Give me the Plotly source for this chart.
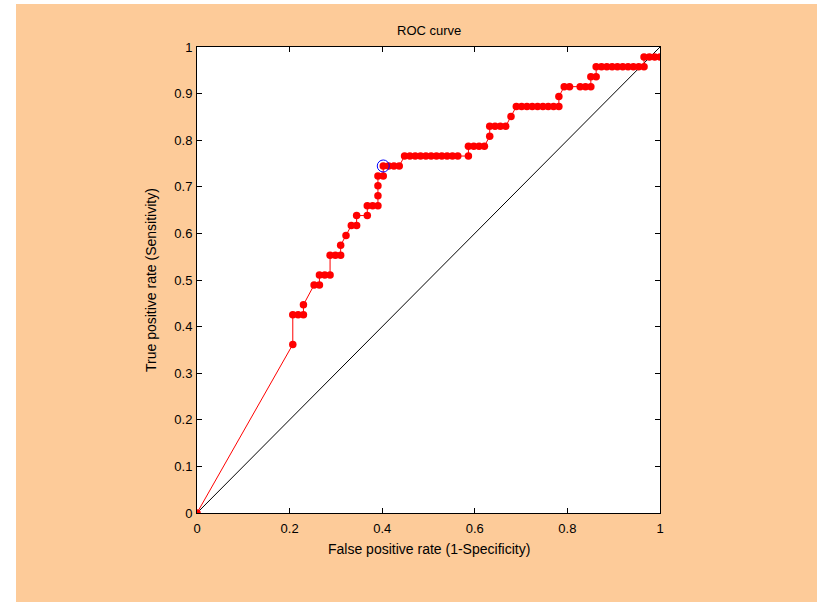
import plotly.graph_objects as go

# ROC curve points
fpr = [0.0, 0.2069, 0.2069, 0.2184, 0.2299, 0.2299, 0.2529, 0.2644, 0.2644, 0.2759,
       0.2874, 0.2874, 0.2989, 0.3103, 0.3103, 0.3218, 0.3333, 0.3448, 0.3448, 0.3678,
       0.3678, 0.3793, 0.3908, 0.3908, 0.3908, 0.3908, 0.4023, 0.4023, 0.4138, 0.4253,
       0.4368, 0.4483, 0.4598, 0.4713, 0.4828, 0.4943, 0.5057, 0.5172, 0.5287, 0.5402,
       0.5517, 0.5632, 0.5862, 0.5862, 0.5977, 0.6092, 0.6207, 0.6322, 0.6322, 0.6437,
       0.6552, 0.6667, 0.6782, 0.6897, 0.7011, 0.7126, 0.7241, 0.7356, 0.7471, 0.7586,
       0.7701, 0.7816, 0.7816, 0.7931, 0.8046, 0.8276, 0.8391, 0.8506, 0.8506, 0.8621,
       0.8621, 0.8736, 0.8851, 0.8966, 0.9080, 0.9195, 0.9310, 0.9425, 0.9540, 0.9655,
       0.9655, 0.9770, 0.9885, 1.0]
tpr = [0.0, 0.3617, 0.4255, 0.4255, 0.4255, 0.4468, 0.4894, 0.4894, 0.5106, 0.5106,
       0.5106, 0.5532, 0.5532, 0.5532, 0.5745, 0.5957, 0.6170, 0.6170, 0.6383, 0.6383,
       0.6596, 0.6596, 0.6596, 0.6809, 0.7021, 0.7234, 0.7234, 0.7447, 0.7447, 0.7447,
       0.7447, 0.7660, 0.7660, 0.7660, 0.7660, 0.7660, 0.7660, 0.7660, 0.7660, 0.7660,
       0.7660, 0.7660, 0.7660, 0.7872, 0.7872, 0.7872, 0.7872, 0.8085, 0.8298, 0.8298,
       0.8298, 0.8298, 0.8511, 0.8723, 0.8723, 0.8723, 0.8723, 0.8723, 0.8723, 0.8723,
       0.8723, 0.8723, 0.8936, 0.9149, 0.9149, 0.9149, 0.9149, 0.9149, 0.9362, 0.9362,
       0.9574, 0.9574, 0.9574, 0.9574, 0.9574, 0.9574, 0.9574, 0.9574, 0.9574, 0.9574,
       0.9787, 0.9787, 0.9787, 0.9787]

# operating point (blue circle)
op_x = [0.4023]
op_y = [0.7447]

diag_x = [0, 1]
diag_y = [0, 1]

x_ticks = [0, 0.2, 0.4, 0.6, 0.8, 1]
x_tick_text = ["0", "0.2", "0.4", "0.6", "0.8", "1"]
y_ticks = [0, 0.1, 0.2, 0.3, 0.4, 0.5, 0.6, 0.7, 0.8, 0.9, 1]
y_tick_text = ["0", "0.1", "0.2", "0.3", "0.4", "0.5", "0.6", "0.7", "0.8", "0.9", "1"]

FONT = "Liberation Sans, Arial, Helvetica, sans-serif"
BG = "#FDCB99"

fig = go.Figure()
fig.add_trace(go.Scatter(x=diag_x, y=diag_y, mode="lines",
                         line=dict(color="black", width=1), showlegend=False))
fig.add_trace(go.Scatter(x=fpr, y=tpr, mode="lines+markers",
                         line=dict(color="red", width=1),
                         marker=dict(color="red", size=7.5, line=dict(width=0)),
                         showlegend=False))
fig.add_trace(go.Scatter(x=op_x, y=op_y, mode="markers",
                         marker=dict(symbol="circle-open", color="blue", size=12,
                                     line=dict(color="blue", width=1)),
                         showlegend=False))

W, H = 817, 602
L, R, T, B = 197, 157, 47, 89
pw, ph = W - L - R, H - T - B

def px_to_xpaper(px):
    return (px - L) / pw

def py_to_ypaper(py):
    return (H - B - py) / ph

shapes = [
    dict(type="rect", xref="paper", yref="paper", layer="below",
         x0=px_to_xpaper(-5), x1=px_to_xpaper(16), y0=py_to_ypaper(610), y1=py_to_ypaper(-5),
         fillcolor="white", line=dict(width=0)),
    dict(type="rect", xref="paper", yref="paper", layer="below",
         x0=px_to_xpaper(-5), x1=px_to_xpaper(825), y0=py_to_ypaper(4), y1=py_to_ypaper(-5),
         fillcolor="white", line=dict(width=0)),
]

axis_common = dict(showgrid=False, zeroline=False, showline=True, linecolor="black",
                   linewidth=1, mirror="ticks", ticks="inside", ticklen=5,
                   tickcolor="black", tickfont=dict(family=FONT, size=13, color="black"))

fig.update_layout(
    width=W, height=H,
    margin=dict(l=L, r=R, t=T, b=B),
    paper_bgcolor=BG, plot_bgcolor="white",
    xaxis=dict(range=[0, 1], tickvals=x_ticks, ticktext=x_tick_text,
               ticklabelstandoff=3, **axis_common),
    yaxis=dict(range=[0, 1], tickvals=y_ticks, ticktext=y_tick_text,
               ticklabelstandoff=1, **axis_common),
    shapes=shapes,
    annotations=[
        dict(text="ROC curve", xref="paper", yref="paper", x=0.5, y=py_to_ypaper(30),
             showarrow=False, font=dict(family=FONT, size=13, color="black"),
             xanchor="center", yanchor="middle"),
        dict(text="False positive rate (1-Specificity)", xref="paper", yref="paper",
             x=0.5, y=py_to_ypaper(549), showarrow=False,
             font=dict(family=FONT, size=14, color="black"),
             xanchor="center", yanchor="middle"),
        dict(text="True positive rate (Sensitivity)", xref="paper", yref="paper",
             x=px_to_xpaper(151), y=0.5, showarrow=False, textangle=-90,
             font=dict(family=FONT, size=14, color="black"),
             xanchor="center", yanchor="middle"),
    ],
)

fig.write_html("out.html",
               config={"displayModeBar": False},
               post_script="document.body.style.margin='0px';document.body.style.overflow='hidden';")
